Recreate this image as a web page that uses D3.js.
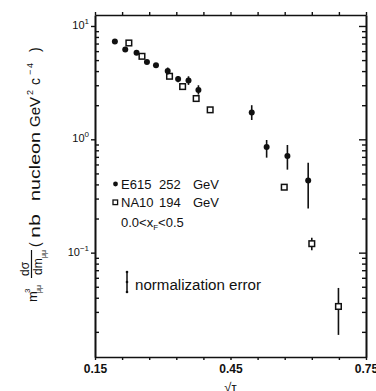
<!DOCTYPE html>
<html>
<head>
<meta charset="utf-8">
<script src="https://cdn.jsdelivr.net/npm/d3@7"></script>
<style>
  body { margin: 0; background: #fff; }
  svg { font-family: "Liberation Sans", Arial, sans-serif; }
</style>
</head>
<body>
<svg id="chart" width="376" height="391"></svg>
<script>
// E615 252 GeV (filled dots)
const e615X  = [0.194, 0.217, 0.242, 0.265, 0.285, 0.311, 0.334, 0.357, 0.379, 0.497, 0.530, 0.576, 0.622];
const e615Y  = [7.3, 6.2, 5.8, 4.8, 4.5, 4.0, 3.4, 3.3, 2.73, 1.72, 0.855, 0.711, 0.433];
const e615Lo = [7.05, 5.95, 5.6, 4.62, 4.3, 3.72, 3.18, 3.02, 2.48, 1.48, 0.689, 0.540, 0.245];
const e615Hi = [7.55, 6.45, 6.0, 4.98, 4.7, 4.3, 3.62, 3.6, 3.0, 2.0, 0.986, 0.891, 0.622];

// NA10 194 GeV (open squares)
const na10X  = [0.225, 0.254, 0.315, 0.344, 0.374, 0.405, 0.569, 0.630, 0.689];
const na10Y  = [7.08, 5.4, 3.6, 2.92, 2.29, 1.82, 0.378, 0.120, 0.0335];
const na10Lo = [6.9, 5.25, 3.5, 2.84, 2.22, 1.77, 0.365, 0.105, 0.0188];
const na10Hi = [7.26, 5.55, 3.7, 3.0, 2.36, 1.87, 0.391, 0.135, 0.0488];

// axis ticks
const xTicks = [0.15, 0.21, 0.27, 0.33, 0.39, 0.45, 0.51, 0.57, 0.63, 0.69, 0.75];
const xLabels = [0.15, 0.45, 0.75];
const yMajor = [0.1, 1, 10];
const yMajorExp = ["-1", "0", "1"];

const svg = d3.select("#chart");
const margin = { left: 95, right: 10, top: 15, bottom: 34 };
const W = 376, H = 391;
const ink = "#111";

const x = d3.scaleLinear().domain([0.15, 0.75]).range([margin.left, W - margin.right]);
const y = d3.scaleLog().domain([0.012, 12.5]).range([H - margin.bottom, margin.top]);

// minor log ticks (2..9 x 10^d) inside the domain
const yMinor = [];
for (let d = -2; d <= 1; d++) {
  for (let k = 2; k <= 9; k++) {
    const v = k * Math.pow(10, d);
    if (v >= y.domain()[0] && v <= y.domain()[1]) yMinor.push(v);
  }
}

function styleAxis(g) {
  g.select(".domain").attr("stroke", ink).attr("stroke-width", 1.6);
  g.selectAll(".tick line").attr("stroke", ink).attr("stroke-width", 1.4);
}

// frame: bottom / top
svg.append("g")
  .attr("transform", `translate(0,${H - margin.bottom})`)
  .call(d3.axisBottom(x).tickValues(xTicks).tickSize(3).tickSizeOuter(0)
    .tickFormat(d => xLabels.some(v => Math.abs(v - d) < 1e-9) ? d.toFixed(2) : ""))
  .call(styleAxis)
  .call(g => g.selectAll("text").attr("font-size", 12).attr("fill", ink)
    .attr("font-weight", "bold").attr("dy", "0.85em").attr("y", 6));

svg.append("g")
  .attr("transform", `translate(0,${margin.top})`)
  .call(d3.axisTop(x).tickValues(xTicks).tickSize(3).tickSizeOuter(0).tickFormat(""))
  .call(styleAxis);

// left axis: minor ticks inward, majors outward
svg.append("g")
  .attr("transform", `translate(${margin.left},0)`)
  .call(d3.axisRight(y).tickValues(yMinor).tickSize(4).tickSizeOuter(0).tickFormat(""))
  .call(styleAxis);
svg.append("g")
  .attr("transform", `translate(${margin.left},0)`)
  .call(d3.axisLeft(y).tickValues(yMajor).tickSize(4).tickSizeOuter(0).tickFormat(""))
  .call(styleAxis);

// right axis
svg.append("g")
  .attr("transform", `translate(${W - margin.right},0)`)
  .call(d3.axisLeft(y).tickValues(yMinor).tickSize(4).tickSizeOuter(0).tickFormat(""))
  .call(styleAxis);
svg.append("g")
  .attr("transform", `translate(${W - margin.right},0)`)
  .call(d3.axisLeft(y).tickValues(yMajor).tickSize(7).tickSizeOuter(0).tickFormat(""))
  .call(styleAxis);

// y tick labels 10^n
yMajor.forEach((v, i) => {
  const t = svg.append("text")
    .attr("x", margin.left - 6)
    .attr("y", y(v) + 3)
    .attr("text-anchor", "end")
    .attr("font-size", 11)
    .attr("fill", ink);
  t.append("tspan").text("10");
  t.append("tspan").attr("dy", -5).attr("font-size", 8).text(yMajorExp[i].replace("-", "\u2212"));
});

// error bars + markers
function drawSeries(xs, ys, lo, hi, filled) {
  const data = xs.map((d, i) => ({ x: d, y: ys[i], lo: lo[i], hi: hi[i] }));
  svg.append("g").selectAll("line").data(data).join("line")
    .attr("x1", d => x(d.x)).attr("x2", d => x(d.x))
    .attr("y1", d => y(d.lo)).attr("y2", d => y(d.hi))
    .attr("stroke", ink).attr("stroke-width", 1.6);
  if (filled) {
    svg.append("g").selectAll("circle").data(data).join("circle")
      .attr("cx", d => x(d.x)).attr("cy", d => y(d.y)).attr("r", 3)
      .attr("fill", ink);
  } else {
    svg.append("g").selectAll("rect").data(data).join("rect")
      .attr("x", d => x(d.x) - 2.8).attr("y", d => y(d.y) - 2.8)
      .attr("width", 5.6).attr("height", 5.6)
      .attr("fill", "#fff").attr("stroke", ink).attr("stroke-width", 1.5);
  }
}
drawSeries(na10X, na10Y, na10Lo, na10Hi, false);
drawSeries(e615X, e615Y, e615Lo, e615Hi, true);

// legend
svg.append("circle").attr("cx", 115.5).attr("cy", 184).attr("r", 2.4).attr("fill", ink);
svg.append("rect").attr("x", 113).attr("y", 200).attr("width", 4.6).attr("height", 4.6)
  .attr("fill", "#fff").attr("stroke", ink).attr("stroke-width", 1.3);
const legText = (tx, ty, s) => svg.append("text").attr("x", tx).attr("y", ty)
  .attr("font-size", 13).attr("fill", ink).text(s);
legText(121, 189, "E615"); legText(159, 189, "252"); legText(193, 189, "GeV");
legText(121, 207, "NA10"); legText(159, 207, "194"); legText(193, 207, "GeV");
const xf = svg.append("text").attr("x", 121).attr("y", 227).attr("font-size", 13).attr("fill", ink);
xf.append("tspan").text("0.0<x");
xf.append("tspan").attr("font-size", 8).attr("dy", 3).text("F");
xf.append("tspan").attr("dy", -3).text("<0.5");

// normalization error
svg.append("line").attr("x1", 127).attr("x2", 127).attr("y1", 272).attr("y2", 292)
  .attr("stroke", ink).attr("stroke-width", 1.5);
[272, 282, 292].forEach(v => svg.append("circle").attr("cx", 127).attr("cy", v).attr("r", 1.3).attr("fill", ink));
svg.append("text").attr("x", 135).attr("y", 290).attr("font-size", 14).attr("fill", ink)
  .attr("textLength", 126).attr("lengthAdjust", "spacingAndGlyphs").text("normalization error");

// x label
svg.append("text").attr("x", x(0.45)).attr("y", 392).attr("text-anchor", "middle")
  .attr("font-size", 13).attr("fill", ink).text("\u221A\u03C4");

// y label (rotated, screen sy -> text x = -sy)
const yl = svg.append("g").attr("transform", "rotate(-90)").attr("fill", ink);
const ylab = (sy, sx, s, fs, len) => {
  const t = yl.append("text").attr("x", -sy).attr("y", sx).attr("font-size", fs).text(s);
  if (len) t.attr("textLength", len).attr("lengthAdjust", "spacingAndGlyphs");
  return t;
};
ylab(302, 37, "m", 13);
ylab(293, 30, "3", 8);
ylab(293, 41, "\u03BC\u03BC", 7);
ylab(276, 29, "d\u03C3", 12);
yl.append("line").attr("x1", -278).attr("x2", -250).attr("y1", 31.5).attr("y2", 31.5)
  .attr("stroke", ink).attr("stroke-width", 1.2);
ylab(275, 42, "dm", 12);
ylab(258, 46, "\u03BC\u03BC", 7);
ylab(247, 40, "(", 14);
ylab(238, 40, "nb", 14, 24);
ylab(201, 40, "nucleon", 14, 69);
ylab(127, 40, "GeV", 14, 30);
ylab(95, 33, "2", 9);
ylab(85, 40, "c", 14);
ylab(75, 33, "\u2212", 9);
ylab(68, 33, "4", 9);
ylab(52, 40, ")", 14);
</script>
</body>
</html>
